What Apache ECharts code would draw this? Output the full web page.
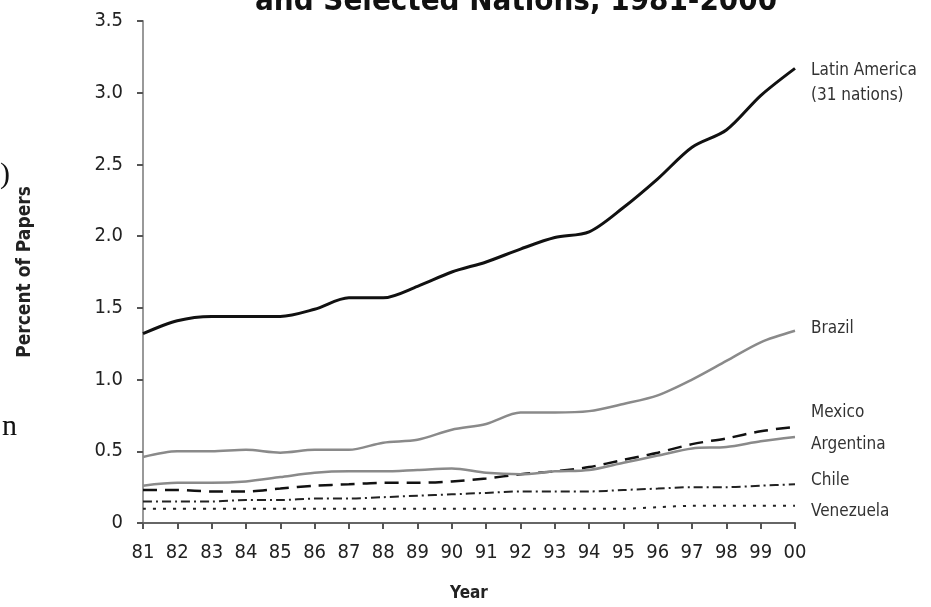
<!DOCTYPE html>
<html>
<head>
<meta charset="utf-8">
<script src="https://cdn.jsdelivr.net/npm/echarts@6/dist/echarts.min.js"></script>
<style>
  html, body { margin: 0; padding: 0; background: #fff; }
  #chart { width: 931px; height: 607px; }
</style>
</head>
<body>
<div id="chart"></div>
<script>
// years on the x axis
const years = ['81', '82', '83', '84', '85', '86', '87', '88', '89', '90',
  '91', '92', '93', '94', '95', '96', '97', '98', '99', '00']

// percent of papers
const latinAmerica = [1.32, 1.41, 1.44, 1.44, 1.44, 1.49, 1.57, 1.57, 1.65, 1.75,
  1.82, 1.91, 1.99, 2.03, 2.20, 2.40, 2.62, 2.74, 2.98, 3.17]
const brazil = [0.46, 0.50, 0.50, 0.51, 0.49, 0.51, 0.51, 0.56, 0.58, 0.65,
  0.69, 0.77, 0.77, 0.78, 0.83, 0.89, 1.00, 1.13, 1.26, 1.34]
const mexico = [0.23, 0.23, 0.22, 0.22, 0.24, 0.26, 0.27, 0.28, 0.28, 0.29,
  0.31, 0.34, 0.36, 0.39, 0.44, 0.49, 0.55, 0.59, 0.64, 0.67]
const argentina = [0.26, 0.28, 0.28, 0.29, 0.32, 0.35, 0.36, 0.36, 0.37, 0.38,
  0.35, 0.34, 0.36, 0.37, 0.42, 0.47, 0.52, 0.53, 0.57, 0.60]
const chile = [0.15, 0.15, 0.15, 0.16, 0.16, 0.17, 0.17, 0.18, 0.19, 0.20,
  0.21, 0.22, 0.22, 0.22, 0.23, 0.24, 0.25, 0.25, 0.26, 0.27]
const venezuela = [0.10, 0.10, 0.10, 0.10, 0.10, 0.10, 0.10, 0.10, 0.10, 0.10,
  0.10, 0.10, 0.10, 0.10, 0.10, 0.11, 0.12, 0.12, 0.12, 0.12]

const narrow = "'Liberation Sans Narrow', 'DejaVu Sans Condensed', sans-serif"

// one line series with its end label
function makeLine (name, label, data, color, width, type, offset) {
  return {
    name: name,
    type: 'line',
    smooth: 0.3,
    symbol: 'none',
    lineStyle: { color: color, width: width, type: type },
    endLabel: {
      show: true,
      formatter: label,
      distance: 16,
      offset: offset,
      color: '#333',
      fontFamily: narrow,
      fontSize: 17,
      lineHeight: 25
    },
    data: data
  }
}

const chart = echarts.init(document.getElementById('chart'))
chart.setOption({
  backgroundColor: '#fff',
  animation: false,
  title: {
    text: 'and Selected Nations, 1981-2000',
    left: 250,
    top: -19,
    textStyle: { fontFamily: narrow, fontSize: 31, fontWeight: 'bold', color: '#111' }
  },
  graphic: [
    // fragments of neighbouring page text at the left edge
    { type: 'text', left: 0, top: 160, style: { text: ')', fontFamily: 'Liberation Serif', fontSize: 30, fill: '#111' } },
    { type: 'text', left: 2, top: 412, style: { text: 'n', fontFamily: 'Liberation Serif', fontSize: 30, fill: '#111' } }
  ],
  grid: { left: 143, right: 136, top: 21, bottom: 82 },
  xAxis: {
    type: 'category',
    boundaryGap: false,
    data: years,
    name: 'Year',
    nameLocation: 'middle',
    nameGap: 62,
    nameTextStyle: { fontFamily: narrow, fontSize: 17, fontWeight: 'bold', color: '#222' },
    axisLine: { show: true, lineStyle: { color: '#666', width: 2 } },
    axisTick: { show: true, length: 6, lineStyle: { color: '#555', width: 2 } },
    axisLabel: { fontFamily: narrow, fontSize: 20, color: '#222', margin: 20 }
  },
  yAxis: {
    type: 'value',
    min: 0,
    max: 3.5,
    interval: 0.5,
    name: 'Percent of Papers',
    nameLocation: 'middle',
    nameGap: 108,
    nameTextStyle: { fontFamily: narrow, fontSize: 19, fontWeight: 'bold', color: '#222' },
    splitLine: { show: false },
    axisLine: { show: true, lineStyle: { color: '#999', width: 2 } },
    axisTick: { show: true, length: 6, lineStyle: { color: '#555', width: 2 } },
    axisLabel: {
      fontFamily: narrow,
      fontSize: 20,
      color: '#222',
      margin: 20,
      formatter: v => v === 0 ? '0' : v.toFixed(1)
    }
  },
  series: [
    makeLine('Latin America', 'Latin America\n(31 nations)', latinAmerica, '#111', 3, 'solid', [0, 15]),
    makeLine('Brazil', 'Brazil', brazil, '#8a8a8a', 2.5, 'solid', [0, -2]),
    makeLine('Mexico', 'Mexico', mexico, '#111', 2.5, [14, 8], [0, -14]),
    makeLine('Argentina', 'Argentina', argentina, '#8a8a8a', 2.5, 'solid', [0, 8]),
    makeLine('Chile', 'Chile', chile, '#222', 2, [9, 4, 2, 4], [0, -4]),
    makeLine('Venezuela', 'Venezuela', venezuela, '#222', 2, [3, 7], [0, 6])
  ]
})
</script>
</body>
</html>
